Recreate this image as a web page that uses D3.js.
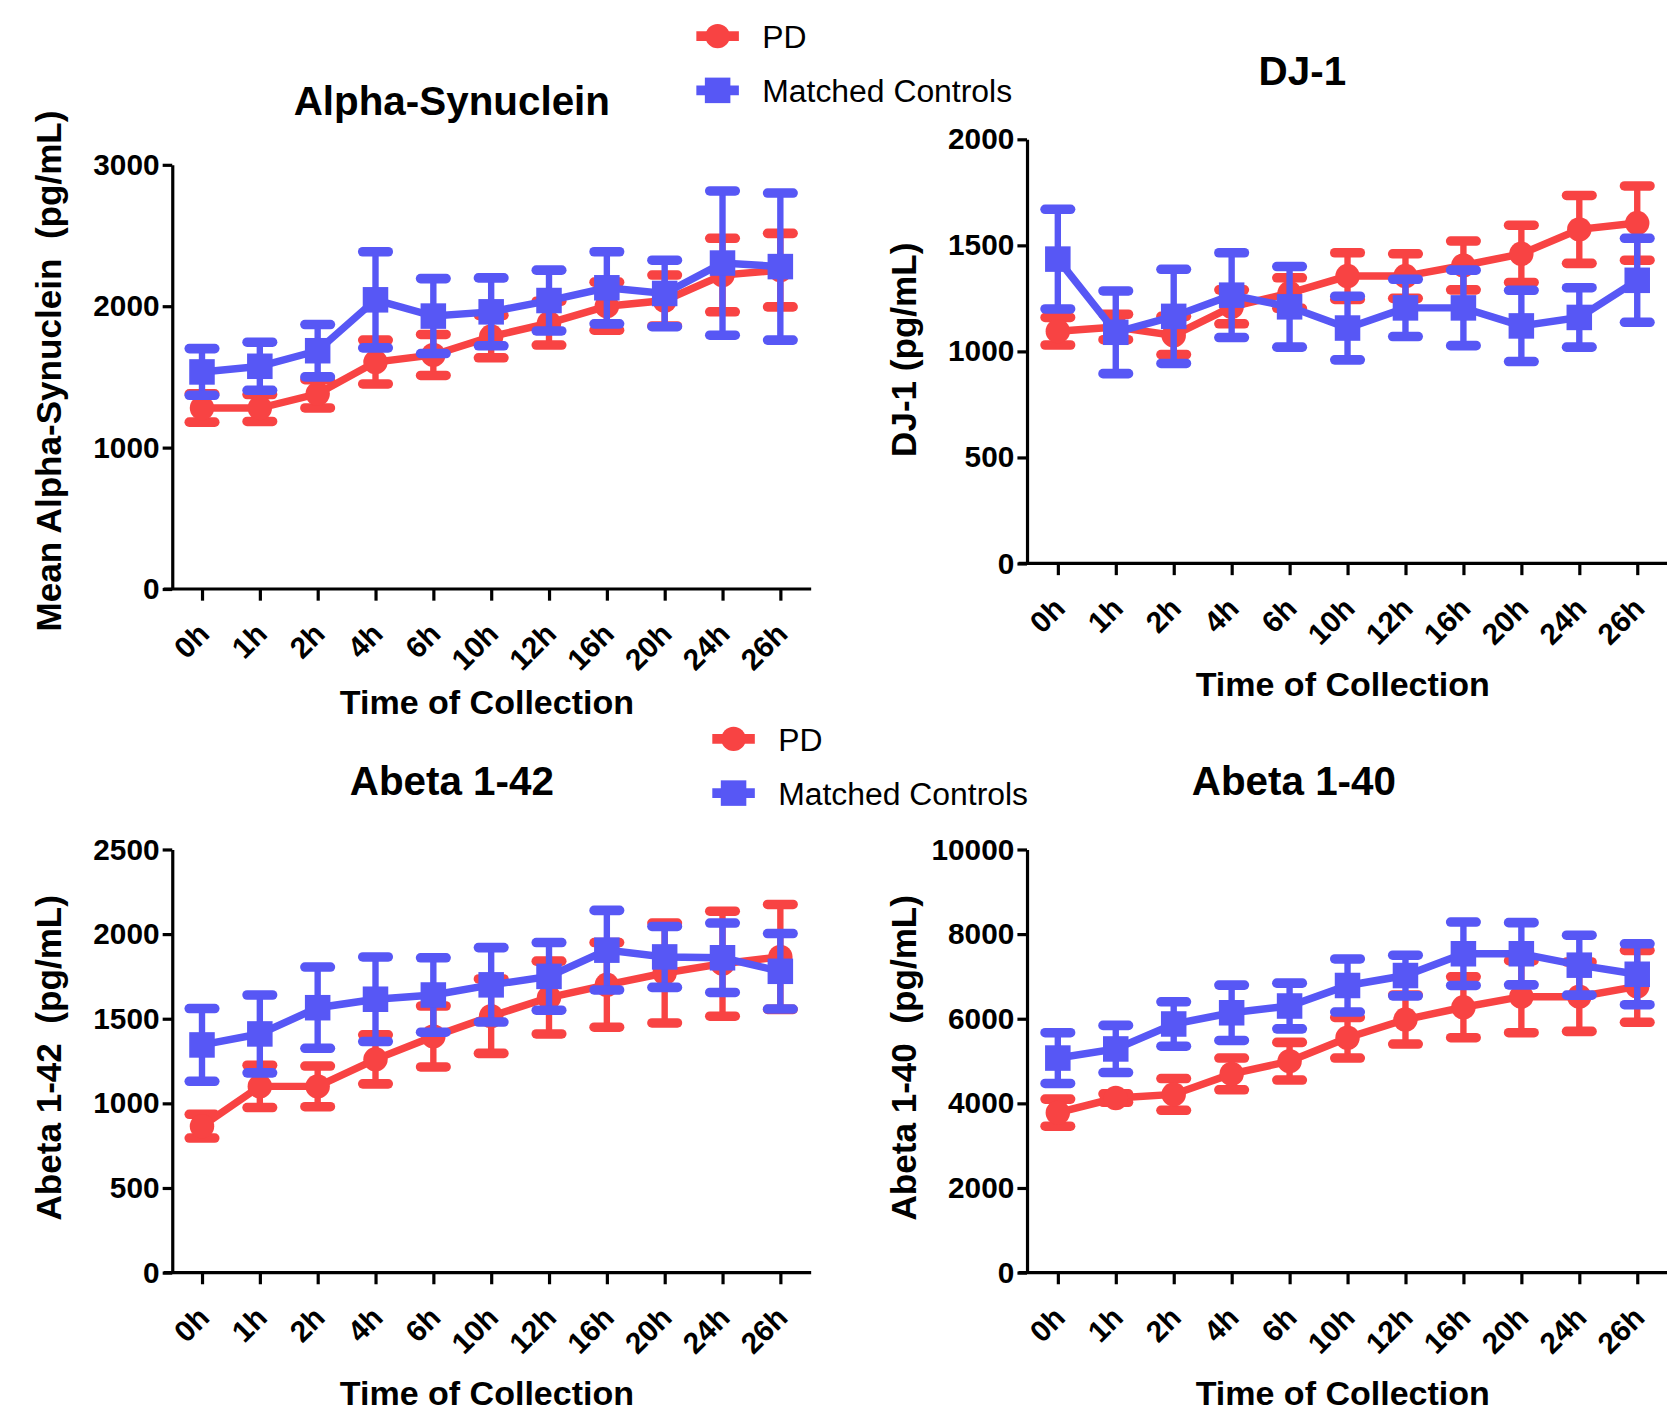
<!DOCTYPE html>
<html>
<head>
<meta charset="utf-8">
<style>
body { margin: 0; background: #fff; }
svg { display: block; }
text { font-family: "Liberation Sans", Arial, sans-serif; fill: #000; }
.axis path, .axis line { stroke: #000; stroke-width: 3; fill: none; }
.axis text { font-size: 28px; font-weight: bold; }
</style>
</head>
<body>
<script src="https://cdn.jsdelivr.net/npm/d3@7"></script>
<script>
// time points (shared)
var times = ["0h", "1h", "2h", "4h", "6h", "10h", "12h", "16h", "20h", "24h", "26h"];

// Alpha-Synuclein
var alphaPD       = [1280, 1280, 1380, 1605, 1655, 1785, 1880, 2000, 2040, 2220, 2255];
var alphaPDErr    = [100, 95, 100, 155, 145, 150, 155, 170, 180, 260, 260];
var alphaCtrl     = [1535, 1575, 1685, 2045, 1930, 1960, 2040, 2130, 2090, 2305, 2280];
var alphaCtrlErr  = [165, 170, 185, 340, 265, 240, 215, 255, 235, 510, 520];
var alphaTicks    = [0, 1000, 2000, 3000];

// DJ-1
var djPD          = [1095, 1115, 1075, 1210, 1275, 1355, 1355, 1405, 1460, 1575, 1605];
var djPDErr       = [65, 60, 90, 80, 72, 110, 105, 115, 135, 160, 175];
var djCtrl        = [1435, 1090, 1165, 1265, 1210, 1110, 1205, 1205, 1120, 1160, 1335];
var djCtrlErr     = [235, 195, 222, 200, 190, 150, 135, 178, 168, 140, 198];
var djTicks       = [0, 500, 1000, 1500, 2000];

// Abeta 1-42
var ab42PD        = [865, 1100, 1100, 1260, 1395, 1515, 1625, 1700, 1770, 1825, 1865];
var ab42PDErr     = [70, 125, 120, 145, 180, 220, 215, 250, 295, 310, 310];
var ab42Ctrl      = [1345, 1410, 1565, 1615, 1640, 1700, 1750, 1905, 1865, 1860, 1780];
var ab42CtrlErr   = [215, 230, 240, 250, 220, 220, 200, 235, 180, 205, 223];
var ab42Ticks     = [0, 500, 1000, 1500, 2000, 2500];

// Abeta 1-40
var ab40PD        = [3780, 4125, 4210, 4695, 4995, 5550, 5980, 6270, 6520, 6520, 6765];
var ab40PDErr     = [320, 100, 375, 375, 445, 480, 580, 720, 850, 820, 850];
var ab40Ctrl      = [5070, 5285, 5875, 6140, 6300, 6785, 7020, 7535, 7535, 7265, 7050];
var ab40CtrlErr   = [600, 557, 525, 654, 540, 627, 480, 750, 735, 708, 720];
var ab40Ticks     = [0, 2000, 4000, 6000, 8000, 10000];

var seriesNames = ["PD", "Matched Controls"];
var red = "#f84343", blue = "#5757f5";

var k = 1667 / 1568;
var svg = d3.select("body").append("svg")
    .attr("width", 1667)
    .attr("height", 1412);
var root = svg.append("g").attr("transform", "scale(" + k + ")");

var panels = [
  { title: "Alpha-Synuclein", ylab: "Mean Alpha-Synuclein  (pg/mL)", ticks: alphaTicks,
    pd: alphaPD, pdErr: alphaPDErr, ctrl: alphaCtrl, ctrlErr: alphaCtrlErr,
    left: 162, top: 155, bottom: 554, x0: 190, x1: 734, end: 763,
    tx: 425, ty: 108, lx: 45, ly: 349, cx: 458, cy: 672 },
  { title: "DJ-1", ylab: "DJ-1 (pg/mL)", ticks: djTicks,
    pd: djPD, pdErr: djPDErr, ctrl: djCtrl, ctrlErr: djCtrlErr,
    left: 966, top: 131, bottom: 530, x0: 995, x1: 1540, end: 1568,
    tx: 1225, ty: 80, lx: 850, ly: 329, cx: 1263, cy: 655 },
  { title: "Abeta 1-42", ylab: "Abeta 1-42  (pg/mL)", ticks: ab42Ticks,
    pd: ab42PD, pdErr: ab42PDErr, ctrl: ab42Ctrl, ctrlErr: ab42CtrlErr,
    left: 162, top: 799, bottom: 1197, x0: 190, x1: 734, end: 763,
    tx: 425, ty: 748, lx: 45, ly: 995, cx: 458, cy: 1322 },
  { title: "Abeta 1-40", ylab: "Abeta 1-40  (pg/mL)", ticks: ab40Ticks,
    pd: ab40PD, pdErr: ab40PDErr, ctrl: ab40Ctrl, ctrlErr: ab40CtrlErr,
    left: 966, top: 799, bottom: 1197, x0: 995, x1: 1540, end: 1568,
    tx: 1217, ty: 748, lx: 850, ly: 995, cx: 1263, cy: 1322 }
];

panels.forEach(function(p) {
  var x = d3.scalePoint().domain(times).range([p.x0, p.x1]);
  var y = d3.scaleLinear().domain([0, d3.max(p.ticks)]).range([p.bottom, p.top]);
  var g = root.append("g");

  // y axis
  g.append("g").attr("class", "axis")
    .attr("transform", "translate(" + p.left + ",0)")
    .call(d3.axisLeft(y).tickValues(p.ticks).tickSize(9).tickSizeOuter(0).tickPadding(3).tickFormat(d3.format("d")));

  // x axis
  var xa = g.append("g").attr("class", "axis")
    .attr("transform", "translate(0," + p.bottom + ")")
    .call(d3.axisBottom(x).tickSize(11).tickSizeOuter(0));
  xa.select(".domain").remove();
  xa.append("line").attr("x1", p.left - 8).attr("x2", p.end).attr("y1", 0).attr("y2", 0);
  xa.selectAll("text")
    .attr("x", 0).attr("y", 0).attr("dy", 0)
    .attr("text-anchor", "end")
    .attr("transform", "translate(8,44) rotate(-45)");

  // titles
  g.append("text").attr("x", p.tx).attr("y", p.ty).attr("text-anchor", "middle")
    .style("font-size", "38px").style("font-weight", "bold").text(p.title);
  g.append("text").attr("x", p.cx).attr("y", p.cy).attr("text-anchor", "middle")
    .style("font-size", "32px").style("font-weight", "bold").text("Time of Collection");
  g.append("text").attr("transform", "translate(" + (p.lx + 12) + "," + p.ly + ") rotate(-90)")
    .attr("text-anchor", "middle").style("white-space", "pre")
    .style("font-size", "33px").style("font-weight", "bold").text(p.ylab);

  drawSeries(g, x, y, p.pd, p.pdErr, red, "circle");
  drawSeries(g, x, y, p.ctrl, p.ctrlErr, blue, "square");
});

function drawSeries(g, x, y, vals, errs, col, shape) {
  var pts = times.map(function(t, i) { return { t: t, v: vals[i], e: errs[i] }; });
  var s = g.append("g");
  s.append("path").datum(pts)
    .attr("fill", "none").attr("stroke", col).attr("stroke-width", 7)
    .attr("d", d3.line().x(function(d) { return x(d.t); }).y(function(d) { return y(d.v); }));
  var eb = s.selectAll(".eb").data(pts).enter().append("g")
    .attr("stroke", col).attr("stroke-linecap", "round");
  eb.append("line").attr("stroke-width", 6)
    .attr("x1", function(d) { return x(d.t); }).attr("x2", function(d) { return x(d.t); })
    .attr("y1", function(d) { return y(d.v - d.e); }).attr("y2", function(d) { return y(d.v + d.e); });
  [-1, 1].forEach(function(sg) {
    eb.append("line").attr("stroke-width", 9)
      .attr("x1", function(d) { return x(d.t) - 12; }).attr("x2", function(d) { return x(d.t) + 12; })
      .attr("y1", function(d) { return y(d.v + sg * d.e); }).attr("y2", function(d) { return y(d.v + sg * d.e); });
  });
  marker(s.selectAll(".mk").data(pts).enter(), function(d) { return x(d.t); }, function(d) { return y(d.v); }, col, shape);
}

function marker(sel, fx, fy, col, shape) {
  if (shape === "circle") {
    sel.append("circle").attr("cx", fx).attr("cy", fy).attr("r", 11.5).attr("fill", col);
  } else {
    sel.append("rect")
      .attr("x", function(d) { return fx(d) - 12; }).attr("y", function(d) { return fy(d) - 12; })
      .attr("width", 24).attr("height", 24).attr("fill", col);
  }
}

// legends
function legend(lx, ly) {
  var lg = root.append("g");
  var cols = [red, blue], shapes = ["circle", "square"];
  seriesNames.forEach(function(name, i) {
    var cy = ly + i * 51;
    lg.append("line").attr("x1", lx - 20).attr("x2", lx + 20).attr("y1", cy).attr("y2", cy)
      .attr("stroke", cols[i]).attr("stroke-width", 9);
    marker(lg.selectAll(".m" + i).data([0]).enter(), function() { return lx; }, function() { return cy; }, cols[i], shapes[i]);
    lg.append("text").attr("x", lx + 42).attr("y", cy + 11)
      .style("font-size", "30px").text(name);
  });
}
legend(675, 34);
legend(690, 695);
</script>
</body>
</html>
